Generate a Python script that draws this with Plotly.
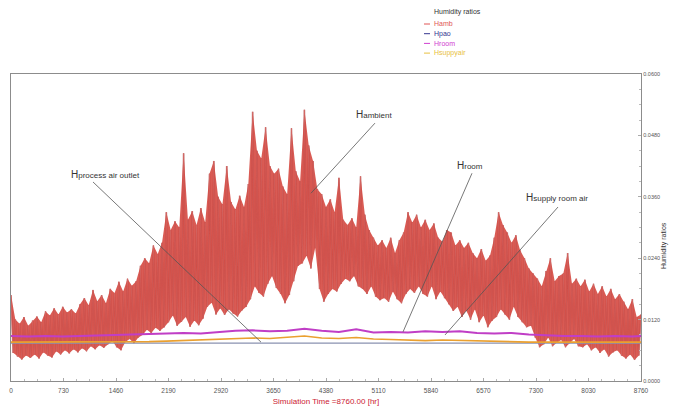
import plotly.graph_objects as go

# ---------------- data (humidity ratio, g/kg -> kg/kg) ----------------
# Hamb: alternating upper (hi, every 60 h from 0) and lower (lo, every 60 h from 30 h) extremes
hamb_hi = [16.8, 12.0, 11.2, 12.5, 10.8, 11.8, 12.6, 11.5, 13.6, 12.8,
           14.2, 13.0, 14.5, 13.4, 14.0, 13.2, 15.0, 16.2, 14.8, 17.8,
           15.6, 16.8, 15.2, 18.0, 17.2, 19.4, 17.5, 20.0, 18.6, 19.5,
           22.5, 24.0, 23.0, 26.5, 24.8, 27.0, 33.0, 29.5, 31.2, 30.0,
           44.5, 31.5, 33.2, 30.5, 33.8, 31.0, 40.5, 43.0, 36.0, 34.5,
           42.0, 35.0, 33.5, 36.2, 34.0, 38.5, 52.6, 45.0, 43.5, 49.6,
           42.0, 40.5, 41.5, 38.0, 36.5, 49.4, 41.0, 39.0, 53.0, 46.0,
           43.0, 37.5, 36.5, 34.0, 35.5, 33.0, 39.7, 31.5, 30.5, 31.8,
           30.0, 40.0, 32.5, 29.5, 28.0, 26.5, 27.5, 26.0, 28.0, 25.0,
           27.5, 29.0, 33.0, 31.0, 32.5, 30.0, 31.5, 29.5, 30.8, 28.0,
           27.2, 29.5, 29.0, 26.5, 27.5, 26.0, 27.0, 25.0, 24.0, 25.8,
           23.5, 24.5, 28.0, 33.0, 30.5, 29.0, 27.0, 28.5, 25.5, 24.0,
           22.0, 21.0, 20.0, 18.5, 21.5, 24.0, 19.5, 20.5, 21.0, 25.0,
           19.0, 20.0, 18.5, 19.8, 17.5, 19.0, 17.0, 18.5, 16.5, 18.0,
           16.0, 17.0, 15.5, 14.0, 16.0, 12.5, 13.0]
hamb_lo = [5.5, 4.8, 4.2, 5.0, 4.5, 5.2, 4.4, 5.6, 5.0, 4.6,
           5.8, 5.2, 6.0, 5.4, 6.2, 5.6, 6.4, 5.8, 6.8, 6.2,
           7.0, 6.5, 7.2, 7.8, 6.6, 6.0, 7.6, 8.2, 7.4, 8.5,
           9.0, 10.0, 9.4, 10.4, 9.8, 10.5, 11.5, 12.8, 10.8, 11.6,
           12.5, 10.6, 11.8, 10.9, 12.2, 14.5, 15.3, 13.0, 14.2, 12.9,
           14.0, 13.2, 12.6, 13.8, 14.5, 16.0, 18.5, 17.2, 16.5, 19.0,
           20.5, 18.2, 17.0, 15.2, 16.8, 19.5, 22.5, 23.0, 24.5, 22.0,
           26.0, 18.0, 15.5, 17.0, 18.0, 17.5, 19.0, 20.0, 19.5, 20.5,
           18.5, 18.0, 17.0, 18.5, 16.5, 15.8, 16.2, 15.5, 17.5, 16.0,
           15.2, 17.0, 18.0, 17.2, 18.5, 17.0, 16.5, 18.5, 16.0, 17.5,
           16.2, 15.0, 13.7, 14.5, 12.5, 13.8, 12.0, 14.0, 11.5, 12.8,
           10.5, 11.8, 12.5, 14.0, 13.0, 12.0, 14.5, 12.5, 11.5, 10.5,
           10.8, 8.5, 6.6, 7.2, 8.5, 6.8, 7.5, 8.0, 6.6, 7.4,
           8.2, 6.8, 6.6, 7.2, 6.0, 6.6, 5.5, 6.2, 4.8, 5.6,
           6.0, 5.0, 4.4, 5.2, 4.1, 5.0]

# slowly varying series, every 240 h (last point at 8760 h)
t_slow = [240 * i for i in range(37)] + [8760]
hroom = [8.8, 8.7, 8.8, 8.7, 8.8, 8.9, 8.9, 9.0, 9.1, 9.2,
         9.4, 9.3, 9.6, 9.8, 9.9, 9.7, 9.8, 10.2, 9.8, 9.6,
         10.1, 9.5, 9.6, 9.5, 9.7, 9.6, 9.7, 9.4, 9.3, 9.4,
         9.1, 8.9, 8.8, 8.8, 8.7, 8.8, 8.7, 8.8]
hsupply = [7.6, 7.6, 7.7, 7.6, 7.6, 7.7, 7.6, 7.7, 7.7, 7.8,
           7.9, 8.0, 8.1, 8.3, 8.4, 8.3, 8.6, 8.8, 8.4, 8.3,
           8.5, 8.2, 8.1, 8.0, 7.9, 8.0, 7.9, 7.8, 7.7, 7.7,
           7.6, 7.6, 7.6, 7.6, 7.6, 7.6, 7.6, 7.6]
hpao = [7.4, 7.4, 7.4, 7.4, 7.4, 7.4, 7.4, 7.4, 7.4, 7.4,
        7.4, 7.5, 7.5, 7.5, 7.5, 7.5, 7.5, 7.5, 7.5, 7.5,
        7.5, 7.5, 7.5, 7.5, 7.5, 7.4, 7.4, 7.4, 7.4, 7.4,
        7.4, 7.4, 7.4, 7.4, 7.4, 7.4, 7.4, 7.4]

x_ticks = [0, 730, 1460, 2190, 2920, 3650, 4380, 5110, 5840, 6570, 7300, 8030, 8760]
y_ticks = [0.0, 0.012, 0.024, 0.036, 0.048, 0.060]

legend_title = "Humidity ratios"
legend_names = ["Hamb", "Hpao", "Hroom", "Hsuppyair"]
legend_colors = ["#e05555", "#35358f", "#d040d0", "#e8c040"]

# pointer labels: (text-big, text-small, text x, text y, line start x,y, line end x,y)
labels = [
    ("H", "process air outlet", 1307, 0.0403, 1140, 0.0389, 3476, 0.0076),
    ("H", "ambient", 5047, 0.0521, 5061, 0.0504, 4171, 0.0367),
    ("H", "room", 6382, 0.0421, 6410, 0.0406, 5451, 0.0096),
    ("H", "supply room air", 7592, 0.0359, 7606, 0.0340, 6035, 0.0090),
]

# ---------------- build ----------------
t_hi = [60 * i for i in range(len(hamb_hi))]
t_lo = [30 + 60 * i for i in range(len(hamb_lo))]
t_amb, v_amb = [], []
for i, hv in enumerate(hamb_hi):
    t_amb.append(t_hi[i])
    v_amb.append(hv / 1000)
    if i < len(hamb_lo):
        t_amb.append(t_lo[i])
        v_amb.append(hamb_lo[i] / 1000)

fig = go.Figure()
# light halo of the hourly swings
fig.add_trace(go.Scatter(x=t_amb, y=v_amb, mode="lines", name="Hamb halo",
                         line=dict(color="#d4a4a4", width=1.8), hoverinfo="skip", showlegend=False))
# dense red core between the extremes
fig.add_trace(go.Scatter(x=t_hi + t_lo[::-1],
                         y=[v / 1000 for v in hamb_hi] + [v / 1000 for v in hamb_lo[::-1]],
                         mode="lines", fill="toself", fillcolor="rgba(212,68,60,0.88)",
                         line=dict(width=0), hoverinfo="skip", showlegend=False))
fig.add_trace(go.Scatter(x=t_amb, y=v_amb, mode="lines", name="Hamb",
                         line=dict(color="#c03a36", width=0.7), showlegend=False))
# faint light streaks of the hourly swings
fig.add_trace(go.Scatter(x=t_amb, y=v_amb, mode="lines", name="Hamb streaks",
                         line=dict(color="rgba(236,170,165,0.45)", width=0.5),
                         hoverinfo="skip", showlegend=False))
fig.add_trace(go.Scatter(x=t_slow, y=[v / 1000 for v in hpao], mode="lines", name="Hpao",
                         line=dict(color="#8a92b0", width=1.2), showlegend=False))
fig.add_trace(go.Scatter(x=t_slow, y=[v / 1000 for v in hsupply], mode="lines", name="Hsuppyair",
                         line=dict(color="#eaa030", width=1.6), showlegend=False))
fig.add_trace(go.Scatter(x=t_slow, y=[v / 1000 for v in hroom], mode="lines", name="Hroom",
                         line=dict(color="#c03ec6", width=2.0), showlegend=False))

font_family = "Liberation Sans, Arial, sans-serif"
annotations = []
shapes = []
for big, small, tx, ty, x0, y0, x1, y1 in labels:
    annotations.append(dict(
        x=tx, y=ty, xref="x", yref="y", showarrow=False,
        text=f"<span style='font-size:10px'>{big}</span>{small}",
        font=dict(size=8, color="#333333", family=font_family)))
    shapes.append(dict(type="line", xref="x", yref="y", x0=x0, y0=y0, x1=x1, y1=y1,
                       line=dict(color="#555555", width=0.8)))

# custom compact legend (positions in window pixels relative to the plot area)
px0, py0 = 11, 381
def paper_x(px):
    return (px - px0) / 630
def paper_y(py):
    return (py0 - py) / 307

annotations.append(dict(x=paper_x(432), y=paper_y(12), xref="paper", yref="paper",
                        xanchor="left", yanchor="middle", showarrow=False,
                        text=legend_title, font=dict(size=7, color="#333333", family=font_family)))
for k, (nm, col) in enumerate(zip(legend_names, legend_colors)):
    yy = 24 + k * 9.7
    annotations.append(dict(x=paper_x(432), y=paper_y(yy), xref="paper", yref="paper",
                            xanchor="left", yanchor="middle", showarrow=False,
                            text=nm, font=dict(size=7, color=col, family=font_family)))
    shapes.append(dict(type="line", xref="paper", yref="paper",
                       x0=paper_x(424), x1=paper_x(430), y0=paper_y(yy), y1=paper_y(yy),
                       line=dict(color=col, width=1)))

# y-axis title (right side)
annotations.append(dict(x=paper_x(670), y=paper_y(246), xref="paper", yref="paper",
                        showarrow=False, textangle=-90, text="Humidity ratios",
                        font=dict(size=7, color="#333333", family=font_family)))

# page body has an 8px margin: compensate so the plot area sits at x 11..641, y 74..381 of the window
fig.update_layout(
    width=680, height=410,
    margin=dict(l=3, r=47, t=66, b=37, autoexpand=False),
    paper_bgcolor="white", plot_bgcolor="white",
    font=dict(family=font_family, size=7, color="#555555"),
    annotations=annotations, shapes=shapes, showlegend=False,
    xaxis=dict(range=[0, 8760], tickvals=x_ticks, ticktext=[str(v) for v in x_ticks],
               showgrid=False, zeroline=False, showline=True, mirror=True,
               linecolor="#8c8c8c", linewidth=1.3, ticks="inside", ticklen=3,
               tickcolor="#aaaaaa", tickfont=dict(size=6.5, color="#555555"),
               ticklabelstandoff=3,
               minor=dict(ticks="inside", ticklen=2, tickcolor="#bbbbbb", dtick=182.5),
               title=dict(text="Simulation Time =8760.00 [hr]", standoff=5,
                          font=dict(size=8, color="#cc2233", family=font_family))),
    yaxis=dict(range=[0, 0.06], tickvals=y_ticks, tickformat=".4f", side="right",
               showgrid=False, zeroline=False, showline=True, mirror=True,
               linecolor="#8c8c8c", linewidth=1.3, ticks="inside", ticklen=3,
               tickcolor="#aaaaaa", tickfont=dict(size=5.5, color="#555555"),
               minor=dict(ticks="inside", ticklen=2, tickcolor="#bbbbbb", dtick=0.003)),
)

fig.write_html("out.html")
